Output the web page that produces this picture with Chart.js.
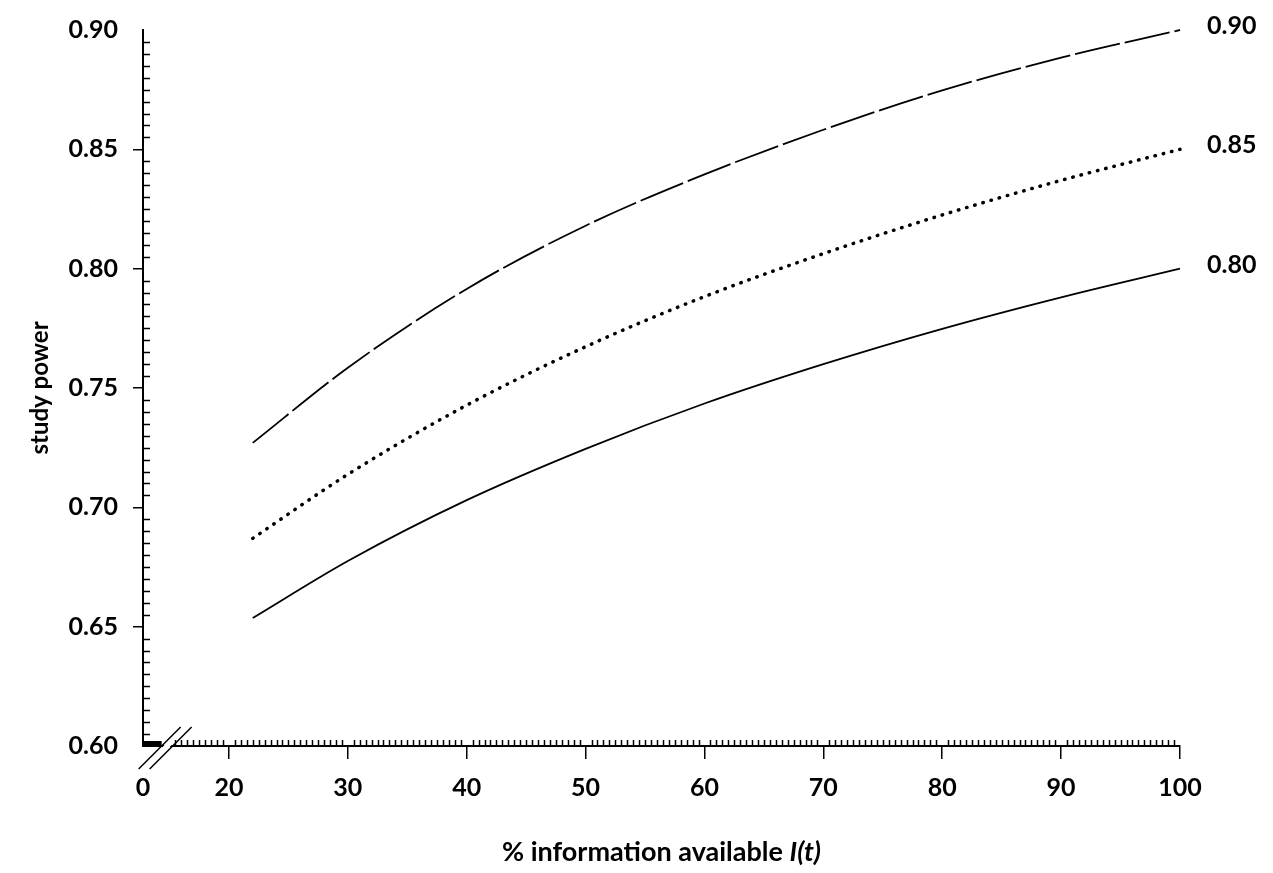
<!DOCTYPE html>
<html>
<head>
<meta charset="utf-8">
<script src="https://cdn.jsdelivr.net/npm/chart.js@4.4.1/dist/chart.umd.min.js"></script>
<style>
  html, body { margin: 0; padding: 0; background: #fff; }
  #wrap { width: 1273px; height: 873px; }
</style>
</head>
<body>
<div id="wrap"><canvas id="chart"></canvas></div>
<script>
// % information available
const X_VALUES = [22, 30, 40, 50, 60, 70, 80, 90, 100];
// study power curves, one per final power
const POWER_90 = [0.727, 0.7585, 0.7915, 0.818, 0.8395, 0.8582, 0.8747, 0.8884, 0.900];
const POWER_85 = [0.687, 0.7138, 0.7428, 0.7673, 0.7883, 0.8063, 0.8225, 0.837, 0.850];
const POWER_80 = [0.6536, 0.6775, 0.7030, 0.7245, 0.7435, 0.7600, 0.7748, 0.7880, 0.800];
const SERIES_LABELS = ['0.90', '0.85', '0.80'];

// broken x axis: "0" sits at the axis origin, the scale resumes after the break
const X_AXIS_START = 12.77;
const X_BREAK_AT = 14.8;
const X_TICK_VALUES = [X_AXIS_START, 20, 30, 40, 50, 60, 70, 80, 90, 100];
const X_TICK_LABELS = ['0', '20', '30', '40', '50', '60', '70', '80', '90', '100'];
const Y_TICK_VALUES = [0.60, 0.65, 0.70, 0.75, 0.80, 0.85, 0.90];
const Y_TICK_LABELS = ['0.60', '0.65', '0.70', '0.75', '0.80', '0.85', '0.90'];
const X_MINOR_STEP = 0.5;
const Y_MINOR_STEP = 0.005;

const FONT = 'Lato, "Open Sans", sans-serif';
const tickFont = { family: FONT, size: 25, weight: 'bold' };

// minor ticks, axis break, end labels and the x title
const decor = {
    id: 'decor',
    afterDraw(chart) {
        const { ctx, chartArea, scales: { x, y } } = chart;
        const ax = chartArea.left, ay = chartArea.bottom;
        ctx.save();
        ctx.strokeStyle = '#000';
        ctx.lineWidth = 1.5;

        ctx.beginPath();
        const nY = Math.round((y.max - y.min) / Y_MINOR_STEP);
        for (let k = 1; k < nY; k++) {
            if (k % 10 === 0) continue;
            const py = Math.round(y.getPixelForValue(y.min + k * Y_MINOR_STEP)) + 0.5;
            ctx.moveTo(ax, py);
            ctx.lineTo(ax + 7, py);
        }
        const bx = x.getPixelForValue(X_BREAK_AT);
        const kStart = Math.ceil(X_BREAK_AT / X_MINOR_STEP);
        const kEnd = Math.round(x.max / X_MINOR_STEP);
        for (let k = kStart; k < kEnd; k++) {
            if (k % 20 === 0) continue;
            const px = Math.round(x.getPixelForValue(k * X_MINOR_STEP)) + 0.5;
            if (px < bx + 5) continue;
            ctx.moveTo(px, ay);
            ctx.lineTo(px, ay - 6);
        }
        ctx.stroke();

        // ticks before the break are so dense they merge into a bar
        ctx.fillStyle = '#000';
        ctx.fillRect(ax, ay - 5, bx - 5.5 - ax, 5);

        // gap in the axis line between the two slashes
        ctx.fillStyle = '#fff';
        ctx.beginPath();
        ctx.moveTo(bx - 3.5 + 3, ay - 3);
        ctx.lineTo(bx + 3.5 + 3, ay - 3);
        ctx.lineTo(bx + 3.5 - 3, ay + 3);
        ctx.lineTo(bx - 3.5 - 3, ay + 3);
        ctx.closePath();
        ctx.fill();
        ctx.beginPath();
        [-5.5, 5.5].forEach(off => {
            const c = bx + off;
            ctx.moveTo(c - 23, ay + 23);
            ctx.lineTo(c + 19, ay - 19);
        });
        ctx.stroke();

        // curve labels at the right end
        ctx.fillStyle = '#000';
        ctx.font = `bold 25px ${FONT}`;
        ctx.textAlign = 'left';
        ctx.textBaseline = 'middle';
        chart.data.datasets.forEach((ds, i) => {
            const pts = chart.getDatasetMeta(i).data;
            const last = pts[pts.length - 1];
            ctx.fillText(ds.label, last.x + 27, last.y - 4);
        });

        // x title with italic I(t)
        const part1 = '% information available ';
        const part2 = 'I(t)';
        const f1 = `bold 27px ${FONT}`;
        const f2 = `italic bold 27px ${FONT}`;
        ctx.font = f1;
        const w1 = ctx.measureText(part1).width;
        ctx.font = f2;
        const w2 = ctx.measureText(part2).width;
        const cx = (chartArea.left + chartArea.right) / 2;
        const tx = cx - (w1 + w2) / 2;
        const baseY = chart.height - 12;
        ctx.textBaseline = 'alphabetic';
        ctx.font = f1;
        ctx.fillText(part1, tx, baseY);
        ctx.font = f2;
        ctx.fillText(part2, tx + w1, baseY);
        ctx.restore();
    }
};

function series(values) {
    return X_VALUES.map((x, i) => ({ x, y: values[i] }));
}

new Chart(document.getElementById('chart'), {
    type: 'line',
    data: {
        datasets: [
            { label: SERIES_LABELS[0], data: series(POWER_90), borderDash: [46, 5], borderWidth: 1.8 },
            { label: SERIES_LABELS[1], data: series(POWER_85), borderDash: [0.5, 8], borderWidth: 3.5, borderCapStyle: 'round' },
            { label: SERIES_LABELS[2], data: series(POWER_80), borderWidth: 1.8 }
        ]
    },
    options: {
        responsive: true,
        maintainAspectRatio: false,
        animation: false,
        layout: { padding: { top: 23, right: 93, left: 0, bottom: 0 } },
        plugins: { legend: { display: false }, tooltip: { enabled: false } },
        elements: {
            point: { radius: 0 },
            line: { borderColor: '#000', fill: false, cubicInterpolationMode: 'monotone' }
        },
        datasets: { line: { clip: 6 } },
        scales: {
            x: {
                type: 'linear',
                min: X_AXIS_START,
                max: 100,
                afterBuildTicks: s => { s.ticks = X_TICK_VALUES.map(v => ({ value: v })); },
                afterFit: s => { s.height = 127; },
                ticks: {
                    callback: (v, i) => X_TICK_LABELS[i],
                    color: '#000', font: tickFont, padding: 14,
                    maxRotation: 0, autoSkip: false
                },
                grid: {
                    drawOnChartArea: false, tickLength: 13, lineWidth: 1.5,
                    color: c => c.index === 0 ? 'rgba(0,0,0,0)' : '#000'
                },
                border: { color: '#000', width: 2 }
            },
            y: {
                min: 0.60,
                max: 0.90,
                afterBuildTicks: s => { s.ticks = Y_TICK_VALUES.map(v => ({ value: v })); },
                afterFit: s => { s.width = 143; },
                ticks: {
                    callback: (v, i) => Y_TICK_LABELS[i],
                    color: '#000', font: tickFont, padding: 15, autoSkip: false
                },
                grid: {
                    drawOnChartArea: false, tickLength: 10, lineWidth: 1.5,
                    color: c => (c.index === 0 || c.index === Y_TICK_VALUES.length - 1) ? 'rgba(0,0,0,0)' : '#000'
                },
                border: { color: '#000', width: 2 },
                title: {
                    display: true, text: 'study power', color: '#000',
                    font: { family: FONT, size: 24, weight: 'bold' },
                    padding: { top: 26, bottom: 0 }
                }
            }
        }
    },
    plugins: [decor]
});
</script>
</body>
</html>
